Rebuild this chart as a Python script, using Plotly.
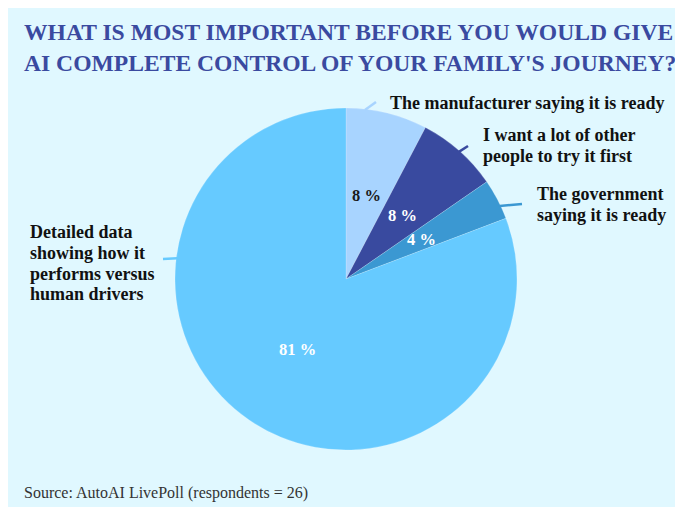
import math
import plotly.graph_objects as go

# ---- data ----
labels = [
    "The manufacturer saying it is ready",
    "I want a lot of other people to try it first",
    "The government saying it is ready",
    "Detailed data showing how it performs versus human drivers",
]
label_lines = [
    ["The manufacturer saying it is ready"],
    ["I want a lot of other", "people to try it first"],
    ["The government", "saying it is ready"],
    ["Detailed data", "showing how it", "performs versus", "human drivers"],
]
counts = [2, 2, 1, 21]
colors = ["#A8D4FF", "#394A9F", "#3B98D2", "#66CAFF"]
pct_font_colors = ["#1a1a1a", "#FFFFFF", "#FFFFFF", "#FFFFFF"]
title_lines = [
    "WHAT IS MOST IMPORTANT BEFORE YOU WOULD GIVE",
    "AI COMPLETE CONTROL OF YOUR FAMILY'S JOURNEY?",
]
source_text = "Source: AutoAI LivePoll (respondents = 26)"

# ---- layout constants (screen pixels; page has an 8px body margin) ----
W, H = 683, 507
OFF = 8
CX, CY, R = 346, 279, 171
SERIF = "Liberation Serif"
TITLE_COLOR = "#3A4AA0"
BG = "#E0F8FF"

# label anchor (left, first-line middle), line step, leader line (start angle, end point)
label_pos = [(388, 103), (481, 135), (535, 194), (28, 232)]
LINE_STEP = 20.8
leader = [(6.4, (376, 102)), (41.6, (468, 146)), (64.6, (522, 204)), (277.0, (163, 259))]


def px(x):
    return (x - OFF) / W


def py(y):
    return 1 - (y - OFF) / H


total = sum(counts)
pcts = [round(c / total * 100) for c in counts]

fig = go.Figure()
fig.add_trace(go.Pie(
    labels=labels,
    values=counts,
    sort=False,
    direction="clockwise",
    rotation=0,
    marker=dict(colors=colors, line=dict(color="rgba(255,255,255,0.35)", width=0.5)),
    textinfo="none",
    hoverinfo="label+percent",
    showlegend=False,
    domain=dict(x=[px(CX - R), px(CX + R)], y=[py(CY + R), py(CY - R)]),
))

annotations = []
shapes = []

# title
for i, t in enumerate(title_lines):
    annotations.append(dict(
        text=t, xref="paper", yref="paper", x=px(22), y=py(32 + 31 * i),
        xanchor="left", yanchor="middle", showarrow=False,
        font=dict(family=SERIF, size=23.6, color=TITLE_COLOR, weight="bold"),
    ))

# percentages inside slices
cum = 0
for c, p, fc in zip(counts, pcts, pct_font_colors):
    mid = (cum + c / 2) / total * 2 * math.pi
    cum += c
    r = 0.5 * R
    x = CX + r * math.sin(mid)
    y = CY - r * math.cos(mid)
    annotations.append(dict(
        text=f"{p} %", xref="paper", yref="paper", x=px(x), y=py(y),
        xanchor="center", yanchor="middle", showarrow=False,
        font=dict(family=SERIF, size=16.5, color=fc, weight="bold"),
    ))

# outside labels + leader lines
for lines, (lx, ly), (ang, (ex, ey)), col in zip(label_lines, label_pos, leader, colors):
    for j, ln in enumerate(lines):
        annotations.append(dict(
            text=ln, xref="paper", yref="paper", x=px(lx), y=py(ly + j * LINE_STEP),
            xanchor="left", yanchor="middle", align="left", showarrow=False,
            font=dict(family=SERIF, size=18, color="#111111", weight="bold"),
        ))
    a = math.radians(ang)
    sx = CX + (R - 1) * math.sin(a)
    sy = CY - (R - 1) * math.cos(a)
    shapes.append(dict(type="line", xref="paper", yref="paper",
                       x0=px(sx), y0=py(sy), x1=px(ex), y1=py(ey),
                       line=dict(color=col, width=2.5)))

# source
annotations.append(dict(
    text=source_text, xref="paper", yref="paper", x=px(22), y=py(493),
    xanchor="left", yanchor="middle", showarrow=False,
    font=dict(family=SERIF, size=16, color="#333333"),
))

fig.update_layout(
    width=W, height=H,
    margin=dict(l=0, r=0, t=0, b=0),
    paper_bgcolor=BG,
    plot_bgcolor=BG,
    annotations=annotations,
    shapes=shapes,
)

fig.write_html("out.html")
